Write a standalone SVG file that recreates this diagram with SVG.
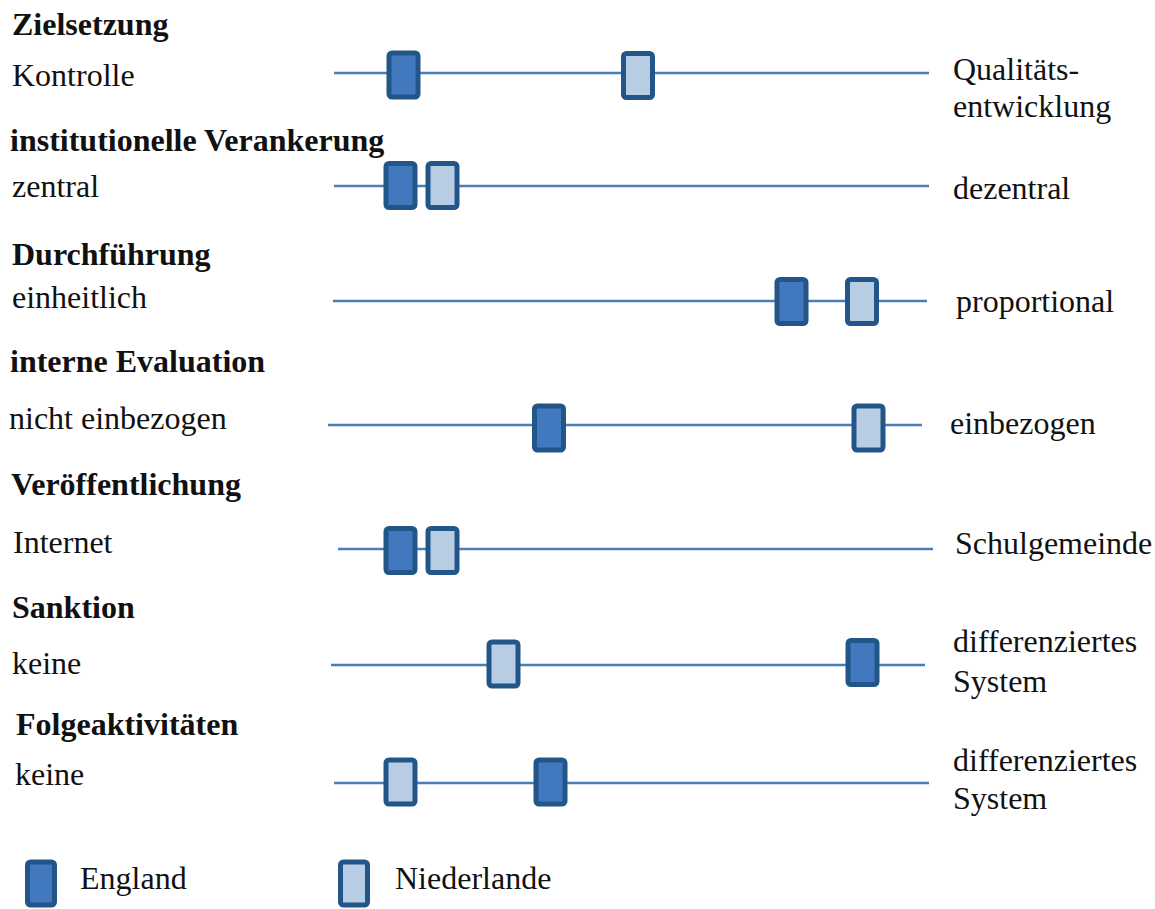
<svg xmlns="http://www.w3.org/2000/svg" width="1155" height="909" viewBox="0 0 1155 909">
  <style>
    text { font-family: "Liberation Serif", "Times New Roman", serif; font-size: 32px; fill: #111; }
    .h { font-weight: bold; }
    .axis { stroke: #4A7EBB; stroke-width: 2.5; fill: none; }
    .box { stroke: #225688; stroke-width: 5; }
    .eng { fill: #4178BE; }
    .nl { fill: #B8CCE4; }
  </style>
  <rect width="1155" height="909" fill="#fff"/>

  <!-- scale axes -->
  <g id="connectors">
    <line class="axis" x1="334" y1="73" x2="929" y2="73"/>
    <line class="axis" x1="334" y1="186" x2="929" y2="186"/>
    <line class="axis" x1="333" y1="301" x2="927" y2="301"/>
    <line class="axis" x1="328" y1="425" x2="922" y2="425"/>
    <line class="axis" x1="338" y1="549" x2="933" y2="549"/>
    <line class="axis" x1="331" y1="665" x2="925" y2="665"/>
    <line class="axis" x1="334" y1="783" x2="929" y2="783"/>
  </g>

  <!-- Zielsetzung -->
  <g id="row-zielsetzung">
    <text class="h" x="12" y="35">Zielsetzung</text>
    <text x="12" y="86">Kontrolle</text>
    <text x="953" y="80">Qualitäts-</text>
    <text x="953" y="117">entwicklung</text>
    <rect class="box eng" x="389" y="53" width="29" height="44" rx="3"/>
    <rect class="box nl" x="623.5" y="53.5" width="29" height="44" rx="3"/>
  </g>

  <!-- institutionelle Verankerung -->
  <g id="row-verankerung">
    <text class="h" x="10" y="151">institutionelle Verankerung</text>
    <text x="12" y="197">zentral</text>
    <text x="953" y="199">dezentral</text>
    <rect class="box eng" x="386" y="163.5" width="29" height="44" rx="3"/>
    <rect class="box nl" x="428" y="163.5" width="29" height="44" rx="3"/>
  </g>

  <!-- Durchführung -->
  <g id="row-durchfuehrung">
    <text class="h" x="12" y="265">Durchführung</text>
    <text x="12" y="308">einheitlich</text>
    <text x="956" y="312">proportional</text>
    <rect class="box eng" x="777" y="279.5" width="29" height="44" rx="3"/>
    <rect class="box nl" x="847.5" y="279.5" width="29" height="44" rx="3"/>
  </g>

  <!-- interne Evaluation -->
  <g id="row-evaluation">
    <text class="h" x="10" y="372">interne Evaluation</text>
    <text x="9" y="429">nicht einbezogen</text>
    <text x="950" y="434">einbezogen</text>
    <rect class="box eng" x="534.5" y="406" width="29" height="44" rx="3"/>
    <rect class="box nl" x="854" y="406" width="29" height="44" rx="3"/>
  </g>

  <!-- Veröffentlichung -->
  <g id="row-veroeffentlichung">
    <text class="h" x="11" y="495">Veröffentlichung</text>
    <text x="13" y="553">Internet</text>
    <text x="955" y="554">Schulgemeinde</text>
    <rect class="box eng" x="386" y="528.5" width="29" height="44" rx="3"/>
    <rect class="box nl" x="428" y="528.5" width="29" height="44" rx="3"/>
  </g>

  <!-- Sanktion -->
  <g id="row-sanktion">
    <text class="h" x="12" y="618">Sanktion</text>
    <text x="12" y="674">keine</text>
    <text x="953" y="652">differenziertes</text>
    <text x="953" y="692">System</text>
    <rect class="box nl" x="489" y="642" width="29" height="44" rx="3"/>
    <rect class="box eng" x="848" y="640.5" width="29" height="44" rx="3"/>
  </g>

  <!-- Folgeaktivitäten -->
  <g id="row-folgeaktivitaeten">
    <text class="h" x="16" y="735">Folgeaktivitäten</text>
    <text x="15" y="785">keine</text>
    <text x="953" y="771">differenziertes</text>
    <text x="953" y="809">System</text>
    <rect class="box nl" x="386" y="760" width="29" height="44" rx="3"/>
    <rect class="box eng" x="536" y="760" width="29" height="44" rx="3"/>
  </g>

  <!-- legend -->
  <g id="legend-england">
    <rect class="box eng" x="27.5" y="862" width="27" height="43" rx="3"/>
    <text x="80" y="889">England</text>
  </g>
  <g id="legend-niederlande">
    <rect class="box nl" x="340.5" y="862" width="27" height="43" rx="3"/>
    <text x="395" y="889">Niederlande</text>
  </g>
</svg>
